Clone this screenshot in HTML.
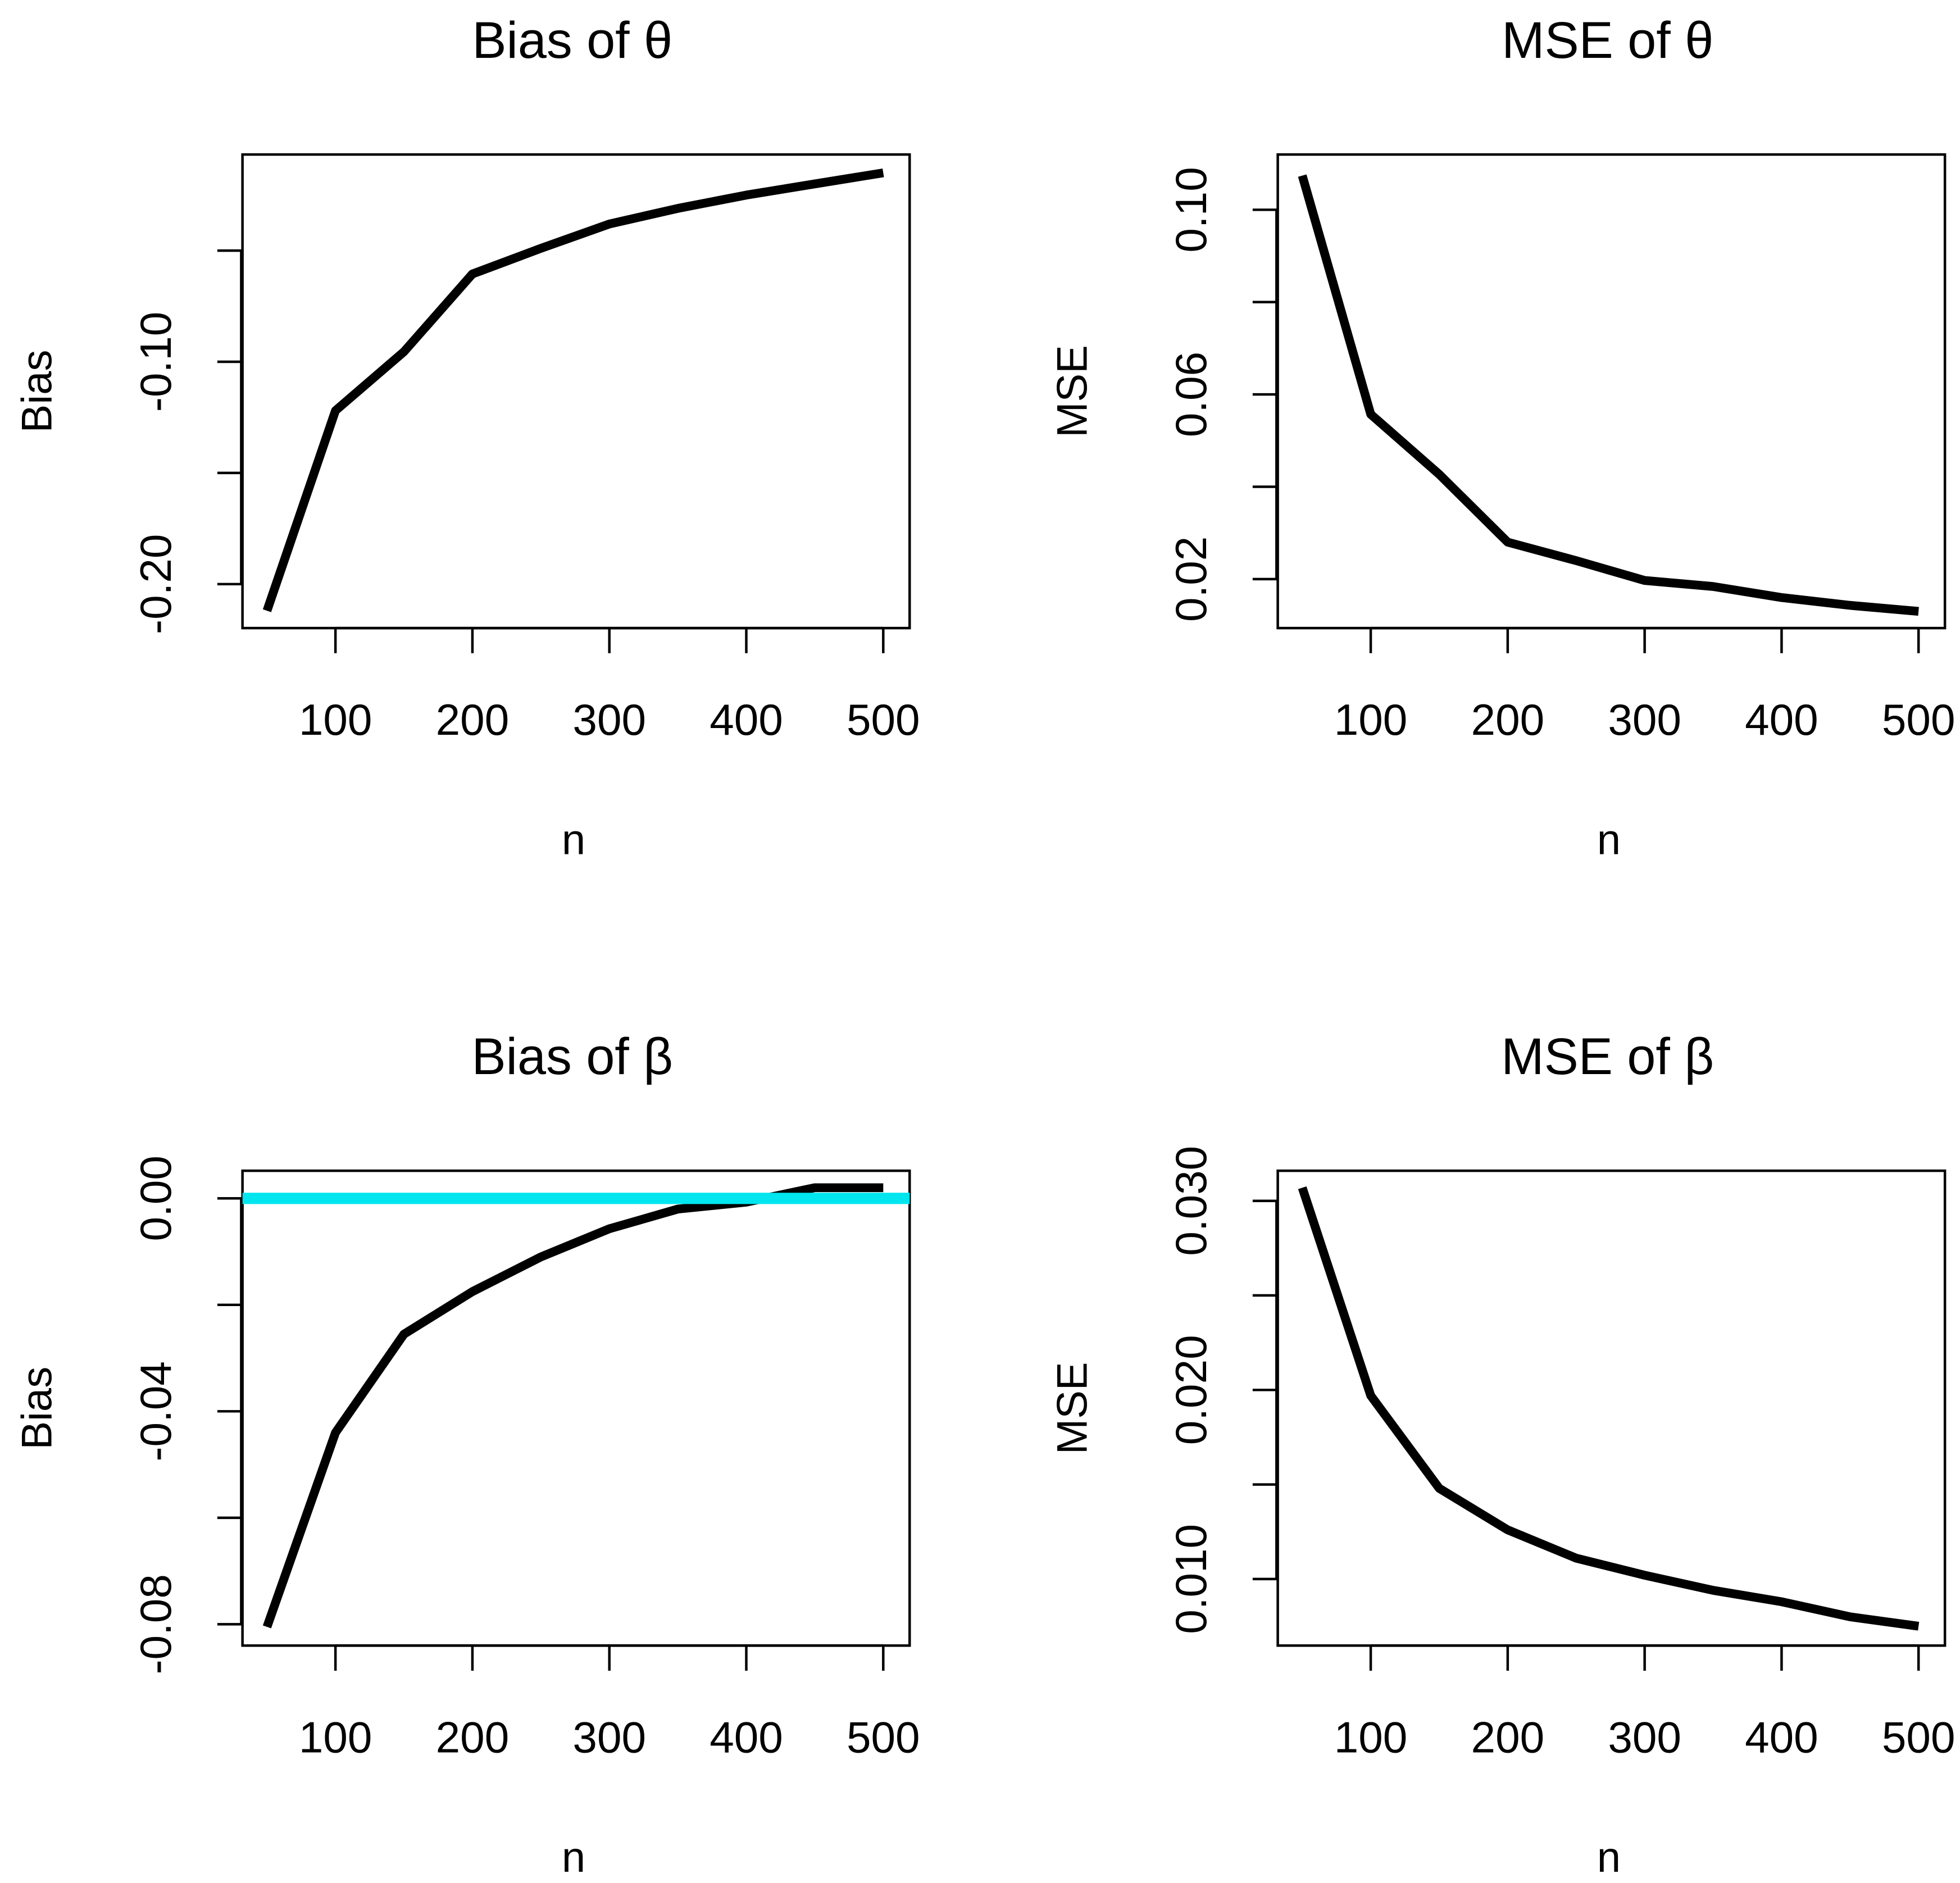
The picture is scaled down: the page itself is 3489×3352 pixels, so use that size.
<!DOCTYPE html>
<html><head><meta charset="utf-8"><style>
html,body{margin:0;padding:0;background:#fff;}
svg{display:block;font-family:"Liberation Sans",Arial,sans-serif;}
</style></head><body>
<svg id="chart" width="3489" height="3352" viewBox="0 0 1560 1499" preserveAspectRatio="none" xmlns="http://www.w3.org/2000/svg">
<rect width="1560" height="1499" fill="#fff"/>
</svg>
<script>
const nValues = [50,100,150,200,250,300,350,400,450,500];
const biasTheta = [-0.212,-0.122,-0.0955,-0.0605,-0.049,-0.038,-0.031,-0.025,-0.020,-0.015];
const mseTheta = [0.1074,0.0557,0.0427,0.028,0.024,0.0197,0.0184,0.016,0.0143,0.013];
const biasBeta = [-0.0805,-0.044,-0.0255,-0.0175,-0.011,-0.0057,-0.002,-0.0007,0.002,0.002];
const mseBeta = [0.0307,0.0197,0.0148,0.0126,0.0111,0.0102,0.0094,0.0088,0.0080,0.0075];
const xTicks = [100,200,300,400,500];
const yTicksBiasTheta = [-0.20,-0.15,-0.10,-0.05];
const yLabelsBiasTheta = ["-0.20","","-0.10",""];
const yTicksMseTheta = [0.02,0.04,0.06,0.08,0.10];
const yLabelsMseTheta = ["0.02","","0.06","","0.10"];
const yTicksBiasBeta = [-0.08,-0.06,-0.04,-0.02,0.00];
const yLabelsBiasBeta = ["-0.08","","-0.04","","0.00"];
const yTicksMseBeta = [0.010,0.015,0.020,0.025,0.030];
const yLabelsMseBeta = ["0.010","","0.020","","0.030"];

const svg = document.getElementById('chart');
const NS = 'http://www.w3.org/2000/svg';
function mk(tag, attrs, parent){const e=document.createElementNS(NS,tag);for(const k in attrs)e.setAttribute(k,attrs[k]);(parent||svg).appendChild(e);return e;}

const panels = [
 {key:'bias-theta',title:'Bias of  θ',ylab:'Bias',x0:193,x1:724,y0:123,y1:500,data:biasTheta,yt:yTicksBiasTheta,yl:yLabelsBiasTheta,ya:-0.20,ypa:465,yb:-0.10,ypb:288,zero:false},
 {key:'mse-theta',title:'MSE of  θ',ylab:'MSE',x0:1017,x1:1548,y0:123,y1:500,data:mseTheta,yt:yTicksMseTheta,yl:yLabelsMseTheta,ya:0.02,ypa:461,yb:0.10,ypb:167,zero:false},
 {key:'bias-beta',title:'Bias of  β',ylab:'Bias',x0:193,x1:724,y0:932,y1:1310,data:biasBeta,yt:yTicksBiasBeta,yl:yLabelsBiasBeta,ya:-0.08,ypa:1293,yb:0.00,ypb:954,zero:true},
 {key:'mse-beta',title:'MSE of  β',ylab:'MSE',x0:1017,x1:1548,y0:932,y1:1310,data:mseBeta,yt:yTicksMseBeta,yl:yLabelsMseBeta,ya:0.010,ypa:1257,yb:0.030,ypb:956,zero:false}
];

panels.forEach(p=>{
 const g = mk('g',{});
 
 
 const xs = n => (p.x0+74) + (n-100)*(436/400);
 const ys = v => p.ypa + (v-p.ya)*(p.ypb-p.ypa)/(p.yb-p.ya);
 const cx = (p.x0+p.x1)/2;
 const t = mk('text',{x:cx-3,y:p.y0-77,'font-size':41,'text-anchor':'middle','xml:space':'preserve'},g); t.textContent=p.title;
 
 
 const box = mk('rect',{x:p.x0,y:p.y0,width:p.x1-p.x0,height:p.y1-p.y0,fill:'none',stroke:'#000','stroke-width':2},g);
 
 
 mk('line',{x1:xs(100),x2:xs(500),y1:p.y1,y2:p.y1,stroke:'#000','stroke-width':2},g);
 xTicks.forEach(v=>{
  mk('line',{x1:xs(v),x2:xs(v),y1:p.y1,y2:p.y1+20,stroke:'#000','stroke-width':2},g);
  const tl = mk('text',{x:xs(v),y:p.y1+85,'font-size':35,'text-anchor':'middle'},g); tl.textContent=v;
  
  
 });
 const xl = mk('text',{x:cx-2,y:p.y1+180,'font-size':34,'text-anchor':'middle'},g); xl.textContent='n';
 
 
 mk('line',{x1:p.x0-1,x2:p.x0-1,y1:ys(p.yt[0]),y2:ys(p.yt[p.yt.length-1]),stroke:'#000','stroke-width':2},g);
 p.yt.forEach((v,i)=>{
  const y=ys(v);
  mk('line',{x1:p.x0-20,x2:p.x0,y1:y,y2:y,stroke:'#000','stroke-width':2},g);
  if(p.yl[i]){
   const tl = mk('text',{x:0,y:0,'font-size':35,'text-anchor':'middle',transform:`translate(${p.x0-57},${y}) rotate(-90)`},g); tl.textContent=p.yl[i];
   
   
  }
 });
 const yl = mk('text',{x:0,y:0,'font-size':34,'text-anchor':'middle',transform:`translate(${p.x0-152},${(p.y0+p.y1)/2}) rotate(-90)`},g); yl.textContent=p.ylab;
 
 
 const pts = nValues.map((n,i)=>xs(n).toFixed(1)+','+ys(p.data[i]).toFixed(1)).join(' ');
 const line = mk('polyline',{points:pts,fill:'none',stroke:'#000','stroke-width':7,'stroke-linejoin':'round'},g);
 
 
 if(p.zero){
  const z = mk('line',{x1:p.x0,x2:p.x1,y1:ys(0),y2:ys(0),stroke:'#00e5ee','stroke-width':9},g);
  
  
 }
});
</script>
</body></html>
